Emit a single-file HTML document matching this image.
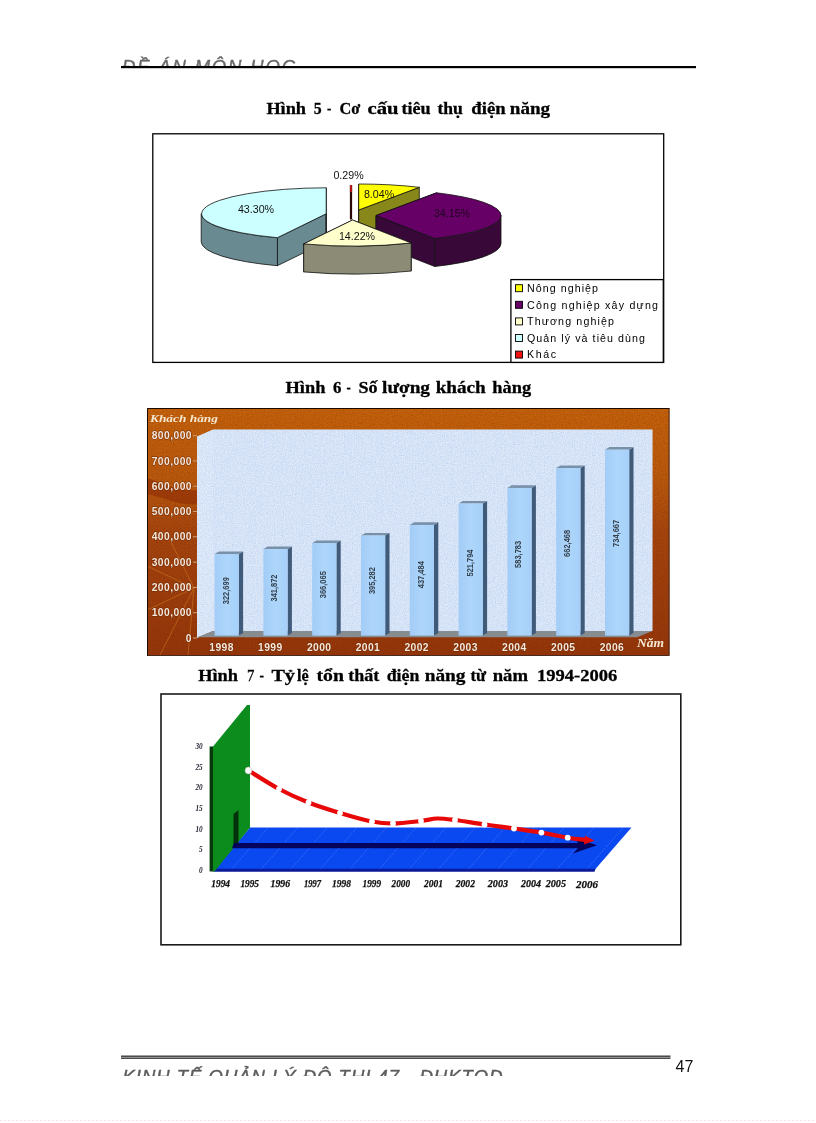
<!DOCTYPE html>
<html lang="vi"><head><meta charset="utf-8"><title>Đề án môn học</title>
<style>html,body{margin:0;padding:0;background:#fff}body{width:816px;height:1123px;position:relative;overflow:hidden;font-family:"Liberation Sans",sans-serif}</style>
</head><body>
<svg width="816" height="1123" viewBox="0 0 816 1123" style="position:absolute;left:0;top:0">
<defs>
<clipPath id="hc"><rect x="100" y="40" width="620" height="26.3"/></clipPath>
<clipPath id="fc"><rect x="100" y="1060" width="620" height="16"/></clipPath>
<filter id="noise" x="0" y="0" width="100%" height="100%"><feTurbulence type="fractalNoise" baseFrequency="0.9" numOctaves="2" seed="3" result="n"/><feColorMatrix in="n" type="matrix" values="0 0 0 0 0  0 0 0 0 0  0 0 0 0 0  0.9 0.9 0.9 0 -1.05" result="a"/><feComposite in="SourceGraphic" in2="a" operator="in"/></filter>
<linearGradient id="bg2" x1="0" y1="0" x2="0" y2="1"><stop offset="0" stop-color="#c8640c"/><stop offset="0.3" stop-color="#bc5a0e"/><stop offset="0.5" stop-color="#a8460e"/><stop offset="1" stop-color="#96360a"/></linearGradient>
<linearGradient id="barf" x1="0" y1="0" x2="1" y2="0"><stop offset="0" stop-color="#a2ccf6"/><stop offset="0.5" stop-color="#aed6fc"/><stop offset="1" stop-color="#a6d0f8"/></linearGradient>
</defs>
<g clip-path="url(#hc)"><text x="122" y="73.4" font-family="'Liberation Sans',sans-serif" font-style="italic" font-size="18.5" fill="#6a6a6a" stroke="#6a6a6a" stroke-width="0.4" textLength="173" lengthAdjust="spacing">ĐỀ ÁN MÔN HỌC</text></g>
<rect x="121" y="66" width="575" height="2.2" fill="#000"/>
<g font-family="'Liberation Serif',serif" font-size="17.4" fill="#000" stroke="#000" stroke-width="0.3"><text x="266.4" y="114" textLength="39.6" lengthAdjust="spacingAndGlyphs" font-weight="bold">Hình</text> <text x="313.7" y="114" textLength="7.9" lengthAdjust="spacingAndGlyphs" font-weight="bold">5</text> <text x="327.0" y="114" textLength="4.3" lengthAdjust="spacingAndGlyphs" font-weight="bold">-</text> <text x="339.4" y="114" textLength="20.8" lengthAdjust="spacingAndGlyphs" font-weight="bold">Cơ</text> <text x="367.5" y="114" textLength="31.0" lengthAdjust="spacingAndGlyphs" font-weight="bold">cấu</text> <text x="401.5" y="114" textLength="29.1" lengthAdjust="spacingAndGlyphs" font-weight="bold">tiêu</text> <text x="437.5" y="114" textLength="25.4" lengthAdjust="spacingAndGlyphs" font-weight="bold">thụ</text> <text x="471.3" y="114" textLength="34.3" lengthAdjust="spacingAndGlyphs" font-weight="bold">điện</text> <text x="509.8" y="114" textLength="40.2" lengthAdjust="spacingAndGlyphs" font-weight="bold">năng</text></g>
<g font-family="'Liberation Serif',serif" font-size="17.4" fill="#000" stroke="#000" stroke-width="0.3"><text x="285.6" y="393.4" textLength="39.8" lengthAdjust="spacingAndGlyphs" font-weight="bold">Hình</text> <text x="332.9" y="393.4" textLength="8.4" lengthAdjust="spacingAndGlyphs" font-weight="bold">6</text> <text x="346.6" y="393.4" textLength="4.3" lengthAdjust="spacingAndGlyphs" font-weight="bold">-</text> <text x="358.4" y="393.4" textLength="19.1" lengthAdjust="spacingAndGlyphs" font-weight="bold">Số</text> <text x="382.1" y="393.4" textLength="47.9" lengthAdjust="spacingAndGlyphs" font-weight="bold">lượng</text> <text x="435.7" y="393.4" textLength="50.1" lengthAdjust="spacingAndGlyphs" font-weight="bold">khách</text> <text x="492.3" y="393.4" textLength="38.8" lengthAdjust="spacingAndGlyphs" font-weight="bold">hàng</text></g>
<g font-family="'Liberation Serif',serif" font-size="17.4" fill="#000" stroke="#000" stroke-width="0.3"><text x="198.2" y="680.6" textLength="39.8" lengthAdjust="spacingAndGlyphs" font-weight="bold">Hình</text> <text x="246.9" y="680.6" textLength="7.4" lengthAdjust="spacingAndGlyphs" font-weight="normal">7</text> <text x="259.6" y="680.6" textLength="4.5" lengthAdjust="spacingAndGlyphs" font-weight="bold">-</text> <text x="271.4" y="680.6" textLength="23.5" lengthAdjust="spacingAndGlyphs" font-weight="bold">Tỷ</text> <text x="296.9" y="680.6" textLength="11.7" lengthAdjust="spacingAndGlyphs" font-weight="bold">lệ</text> <text x="316.5" y="680.6" textLength="27.4" lengthAdjust="spacingAndGlyphs" font-weight="bold">tổn</text> <text x="348.2" y="680.6" textLength="31.0" lengthAdjust="spacingAndGlyphs" font-weight="bold">thất</text> <text x="386.7" y="680.6" textLength="32.7" lengthAdjust="spacingAndGlyphs" font-weight="bold">điện</text> <text x="424.7" y="680.6" textLength="40.8" lengthAdjust="spacingAndGlyphs" font-weight="bold">năng</text> <text x="470.4" y="680.6" textLength="15.6" lengthAdjust="spacingAndGlyphs" font-weight="bold">từ</text> <text x="492.7" y="680.6" textLength="35.3" lengthAdjust="spacingAndGlyphs" font-weight="bold">năm</text> <text x="536.9" y="680.6" textLength="80.4" lengthAdjust="spacingAndGlyphs" font-weight="bold">1994-2006</text></g>
<rect x="152.8" y="133.8" width="510.9" height="228.6" fill="#fff" stroke="#000" stroke-width="1.3"/>
<path d="M358.7 210.0L358.7 184.0L358.7 212.0L358.7 238.0Z" fill="#88881a" stroke="#111" stroke-width="0.8" stroke-linejoin="round"/>
<path d="M358.7 210.0L419.3 187.3L419.3 215.3L358.7 238.0Z" fill="#88881a" stroke="#111" stroke-width="0.8" stroke-linejoin="round"/>
<path d="M358.7 210.0L358.7 184.0A125 26 0 0 1 419.3 187.3Z" fill="#ffff00" stroke="#111" stroke-width="0.8" stroke-linejoin="round"/>
<rect x="349.9" y="185" width="2.2" height="34.5" fill="#2a0606" /><rect x="349.9" y="185" width="2.2" height="7" fill="#b01414"/>
<path d="M376.0 215.5L436.6 192.8L436.6 220.8L376.0 243.5Z" fill="#380838" stroke="#111" stroke-width="0.8" stroke-linejoin="round"/>
<path d="M376.0 215.5L434.7 238.5L434.7 266.5L376.0 243.5Z" fill="#380838" stroke="#111" stroke-width="0.8" stroke-linejoin="round"/>
<path d="M501.0 215.5A125 26 0 0 1 434.7 238.5L434.7 266.5A125 26 0 0 0 501.0 243.5Z" fill="#380838" stroke="#111" stroke-width="0.8" stroke-linejoin="round"/>
<path d="M376.0 215.5L436.6 192.8A125 26 0 0 1 434.7 238.5Z" fill="#660066" stroke="#111" stroke-width="0.8" stroke-linejoin="round"/>
<path d="M326.2 213.8L277.4 237.7L277.4 265.7L326.2 241.8Z" fill="#6a8a92" stroke="#111" stroke-width="0.8" stroke-linejoin="round"/>
<path d="M326.2 213.8L326.2 187.8L326.2 215.8L326.2 241.8Z" fill="#6a8a92" stroke="#111" stroke-width="0.8" stroke-linejoin="round"/>
<path d="M277.4 237.7A125 26 0 0 1 201.2 213.8L201.2 241.8A125 26 0 0 0 277.4 265.7Z" fill="#6a8a92" stroke="#111" stroke-width="0.8" stroke-linejoin="round"/>
<path d="M326.2 213.8L277.4 237.7A125 26 0 0 1 326.2 187.8Z" fill="#ccffff" stroke="#111" stroke-width="0.8" stroke-linejoin="round"/>
<path d="M352.5 220.0L411.2 243.0L411.2 271.0L352.5 248.0Z" fill="#8c8c76" stroke="#111" stroke-width="0.8" stroke-linejoin="round"/>
<path d="M352.5 220.0L303.7 243.9L303.7 271.9L352.5 248.0Z" fill="#8c8c76" stroke="#111" stroke-width="0.8" stroke-linejoin="round"/>
<path d="M411.2 243.0A125 26 0 0 1 303.7 243.9L303.7 271.9A125 26 0 0 0 411.2 271.0Z" fill="#8c8c76" stroke="#111" stroke-width="0.8" stroke-linejoin="round"/>
<path d="M352.5 220.0L411.2 243.0A125 26 0 0 1 303.7 243.9Z" fill="#ffffcc" stroke="#111" stroke-width="0.8" stroke-linejoin="round"/>
<text x="348.5" y="178.5" text-anchor="middle" font-family="'Liberation Sans',sans-serif" font-size="10.67" fill="#111" >0.29%</text>
<text x="379" y="197.5" text-anchor="middle" font-family="'Liberation Sans',sans-serif" font-size="10.67" fill="#111" >8.04%</text>
<text x="452" y="217" text-anchor="middle" font-family="'Liberation Sans',sans-serif" font-size="10.67" fill="#200020" >34.15%</text>
<text x="357" y="239.5" text-anchor="middle" font-family="'Liberation Sans',sans-serif" font-size="10.67" fill="#111" >14.22%</text>
<text x="256" y="213" text-anchor="middle" font-family="'Liberation Sans',sans-serif" font-size="10.67" fill="#111" >43.30%</text>
<rect x="510.9" y="279.6" width="152.4" height="82.8" fill="#fff" stroke="#000" stroke-width="1.3"/>
<rect x="515.5" y="284.7" width="7" height="7" fill="#ffff00" stroke="#000" stroke-width="0.9"/>
<text x="527" y="292.0" font-family="'Liberation Sans',sans-serif" font-size="10.67" fill="#000" textLength="71" lengthAdjust="spacing">Nông nghiệp</text>
<rect x="515.5" y="301.3" width="7" height="7" fill="#660066" stroke="#000" stroke-width="0.9"/>
<text x="527" y="308.6" font-family="'Liberation Sans',sans-serif" font-size="10.67" fill="#000" textLength="131" lengthAdjust="spacing">Công nghiệp xây dựng</text>
<rect x="515.5" y="317.9" width="7" height="7" fill="#ffffcc" stroke="#000" stroke-width="0.9"/>
<text x="527" y="325.2" font-family="'Liberation Sans',sans-serif" font-size="10.67" fill="#000" textLength="87" lengthAdjust="spacing">Thương nghiệp</text>
<rect x="515.5" y="334.5" width="7" height="7" fill="#ccffff" stroke="#000" stroke-width="0.9"/>
<text x="527" y="341.8" font-family="'Liberation Sans',sans-serif" font-size="10.67" fill="#000" textLength="118" lengthAdjust="spacing">Quản lý và tiêu dùng</text>
<rect x="515.5" y="351.1" width="7" height="7" fill="#ee1111" stroke="#000" stroke-width="0.9"/>
<text x="527" y="358.4" font-family="'Liberation Sans',sans-serif" font-size="10.67" fill="#000" textLength="29" lengthAdjust="spacing">Khác</text>
<g>
<rect x="147" y="408" width="522.5" height="248" fill="url(#bg2)"/>
<rect x="147" y="408" width="522.5" height="248" fill="#5a2000" filter="url(#noise)" opacity="0.3"/>
<path d="M147 478 C165 484 180 492 197 490 L197 504 C180 506 165 498 147 494Z" fill="#8a2806" opacity="0.55"/>
<g stroke="#d88a28" stroke-width="1" opacity="0.45" fill="none"><path d="M194 588L147 566"/><path d="M194 588L147 610"/><path d="M194 588L160 655"/><path d="M194 588L188 655"/><path d="M194 588L170 540"/></g>
<polygon points="197,436.5 213,429.5 213,631 197,638" fill="#e4eefb"/>
<rect x="213" y="429.5" width="439.5" height="201.5" fill="#e0ebfa"/>
<polygon points="197,637.3 213,631 652.5,631 637,637.3" fill="#868c90"/>
<polygon points="197,436.5 213,429.5 652.5,429.5 652.5,631 213,631 197,638" fill="#88a8e0" filter="url(#noise)" opacity="0.4"/>
<polygon points="238.8,554.0 243.1,551.4 243.1,633.0 238.8,635.6" fill="#405a7a"/>
<polygon points="214.6,554.0 218.9,551.4 243.1,551.4 238.8,554.0" fill="#7890a8"/>
<rect x="214.6" y="554.0" width="24.2" height="81.6" fill="url(#barf)"/>
<text transform="translate(228.6,590.7) rotate(-90)" text-anchor="middle" font-family="'Liberation Sans Narrow','Liberation Sans',sans-serif" font-weight="bold" font-size="9.8" fill="#34424e" textLength="27" lengthAdjust="spacingAndGlyphs">322,699</text>
<text x="209.3" y="651.3" textLength="24.5" lengthAdjust="spacing" font-family="'Liberation Sans',sans-serif" font-weight="bold" font-size="10.3" fill="#f8e8dc" stroke="#6a2800" stroke-width="0.9" paint-order="stroke" letter-spacing="0.4">1998</text>
<polygon points="287.6,549.1 291.9,546.5 291.9,633.0 287.6,635.6" fill="#405a7a"/>
<polygon points="263.4,549.1 267.7,546.5 291.9,546.5 287.6,549.1" fill="#7890a8"/>
<rect x="263.4" y="549.1" width="24.2" height="86.5" fill="url(#barf)"/>
<text transform="translate(277.4,588.0) rotate(-90)" text-anchor="middle" font-family="'Liberation Sans Narrow','Liberation Sans',sans-serif" font-weight="bold" font-size="9.8" fill="#34424e" textLength="27" lengthAdjust="spacingAndGlyphs">341,872</text>
<text x="258.1" y="651.3" textLength="24.5" lengthAdjust="spacing" font-family="'Liberation Sans',sans-serif" font-weight="bold" font-size="10.3" fill="#f8e8dc" stroke="#6a2800" stroke-width="0.9" paint-order="stroke" letter-spacing="0.4">1999</text>
<polygon points="336.4,543.0 340.7,540.4 340.7,633.0 336.4,635.6" fill="#405a7a"/>
<polygon points="312.2,543.0 316.5,540.4 340.7,540.4 336.4,543.0" fill="#7890a8"/>
<rect x="312.2" y="543.0" width="24.2" height="92.6" fill="url(#barf)"/>
<text transform="translate(326.2,584.7) rotate(-90)" text-anchor="middle" font-family="'Liberation Sans Narrow','Liberation Sans',sans-serif" font-weight="bold" font-size="9.8" fill="#34424e" textLength="27" lengthAdjust="spacingAndGlyphs">366,065</text>
<text x="306.9" y="651.3" textLength="24.5" lengthAdjust="spacing" font-family="'Liberation Sans',sans-serif" font-weight="bold" font-size="10.3" fill="#f8e8dc" stroke="#6a2800" stroke-width="0.9" paint-order="stroke" letter-spacing="0.4">2000</text>
<polygon points="385.2,535.6 389.5,533.0 389.5,633.0 385.2,635.6" fill="#405a7a"/>
<polygon points="361.0,535.6 365.3,533.0 389.5,533.0 385.2,535.6" fill="#7890a8"/>
<rect x="361.0" y="535.6" width="24.2" height="100.0" fill="url(#barf)"/>
<text transform="translate(375.0,580.6) rotate(-90)" text-anchor="middle" font-family="'Liberation Sans Narrow','Liberation Sans',sans-serif" font-weight="bold" font-size="9.8" fill="#34424e" textLength="27" lengthAdjust="spacingAndGlyphs">395,282</text>
<text x="355.7" y="651.3" textLength="24.5" lengthAdjust="spacing" font-family="'Liberation Sans',sans-serif" font-weight="bold" font-size="10.3" fill="#f8e8dc" stroke="#6a2800" stroke-width="0.9" paint-order="stroke" letter-spacing="0.4">2001</text>
<polygon points="434.0,524.9 438.3,522.3 438.3,633.0 434.0,635.6" fill="#405a7a"/>
<polygon points="409.8,524.9 414.1,522.3 438.3,522.3 434.0,524.9" fill="#7890a8"/>
<rect x="409.8" y="524.9" width="24.2" height="110.7" fill="url(#barf)"/>
<text transform="translate(423.8,574.7) rotate(-90)" text-anchor="middle" font-family="'Liberation Sans Narrow','Liberation Sans',sans-serif" font-weight="bold" font-size="9.8" fill="#34424e" textLength="27" lengthAdjust="spacingAndGlyphs">437,484</text>
<text x="404.5" y="651.3" textLength="24.5" lengthAdjust="spacing" font-family="'Liberation Sans',sans-serif" font-weight="bold" font-size="10.3" fill="#f8e8dc" stroke="#6a2800" stroke-width="0.9" paint-order="stroke" letter-spacing="0.4">2002</text>
<polygon points="482.8,503.6 487.1,501.0 487.1,633.0 482.8,635.6" fill="#405a7a"/>
<polygon points="458.6,503.6 462.9,501.0 487.1,501.0 482.8,503.6" fill="#7890a8"/>
<rect x="458.6" y="503.6" width="24.2" height="132.0" fill="url(#barf)"/>
<text transform="translate(472.6,563.0) rotate(-90)" text-anchor="middle" font-family="'Liberation Sans Narrow','Liberation Sans',sans-serif" font-weight="bold" font-size="9.8" fill="#34424e" textLength="27" lengthAdjust="spacingAndGlyphs">521,794</text>
<text x="453.3" y="651.3" textLength="24.5" lengthAdjust="spacing" font-family="'Liberation Sans',sans-serif" font-weight="bold" font-size="10.3" fill="#f8e8dc" stroke="#6a2800" stroke-width="0.9" paint-order="stroke" letter-spacing="0.4">2003</text>
<polygon points="531.6,487.9 535.9,485.3 535.9,633.0 531.6,635.6" fill="#405a7a"/>
<polygon points="507.4,487.9 511.7,485.3 535.9,485.3 531.6,487.9" fill="#7890a8"/>
<rect x="507.4" y="487.9" width="24.2" height="147.7" fill="url(#barf)"/>
<text transform="translate(521.4,554.4) rotate(-90)" text-anchor="middle" font-family="'Liberation Sans Narrow','Liberation Sans',sans-serif" font-weight="bold" font-size="9.8" fill="#34424e" textLength="27" lengthAdjust="spacingAndGlyphs">583,783</text>
<text x="502.1" y="651.3" textLength="24.5" lengthAdjust="spacing" font-family="'Liberation Sans',sans-serif" font-weight="bold" font-size="10.3" fill="#f8e8dc" stroke="#6a2800" stroke-width="0.9" paint-order="stroke" letter-spacing="0.4">2004</text>
<polygon points="580.4,468.0 584.7,465.4 584.7,633.0 580.4,635.6" fill="#405a7a"/>
<polygon points="556.2,468.0 560.5,465.4 584.7,465.4 580.4,468.0" fill="#7890a8"/>
<rect x="556.2" y="468.0" width="24.2" height="167.6" fill="url(#barf)"/>
<text transform="translate(570.2,543.4) rotate(-90)" text-anchor="middle" font-family="'Liberation Sans Narrow','Liberation Sans',sans-serif" font-weight="bold" font-size="9.8" fill="#34424e" textLength="27" lengthAdjust="spacingAndGlyphs">662,468</text>
<text x="550.9" y="651.3" textLength="24.5" lengthAdjust="spacing" font-family="'Liberation Sans',sans-serif" font-weight="bold" font-size="10.3" fill="#f8e8dc" stroke="#6a2800" stroke-width="0.9" paint-order="stroke" letter-spacing="0.4">2005</text>
<polygon points="629.2,449.7 633.5,447.1 633.5,633.0 629.2,635.6" fill="#405a7a"/>
<polygon points="605.0,449.7 609.3,447.1 633.5,447.1 629.2,449.7" fill="#7890a8"/>
<rect x="605.0" y="449.7" width="24.2" height="185.9" fill="url(#barf)"/>
<text transform="translate(619.0,533.4) rotate(-90)" text-anchor="middle" font-family="'Liberation Sans Narrow','Liberation Sans',sans-serif" font-weight="bold" font-size="9.8" fill="#34424e" textLength="27" lengthAdjust="spacingAndGlyphs">734,667</text>
<text x="599.7" y="651.3" textLength="24.5" lengthAdjust="spacing" font-family="'Liberation Sans',sans-serif" font-weight="bold" font-size="10.3" fill="#f8e8dc" stroke="#6a2800" stroke-width="0.9" paint-order="stroke" letter-spacing="0.4">2006</text>
<text x="192" y="641.6" text-anchor="end" font-family="'Liberation Sans',sans-serif" font-weight="bold" font-size="10.3" fill="#f8e8dc" stroke="#6a2800" stroke-width="0.9" paint-order="stroke" letter-spacing="0.45">0</text>
<rect x="193" y="637.5" width="4" height="1" fill="#c8a080"/>
<text x="192" y="616.3" text-anchor="end" font-family="'Liberation Sans',sans-serif" font-weight="bold" font-size="10.3" fill="#f8e8dc" stroke="#6a2800" stroke-width="0.9" paint-order="stroke" letter-spacing="0.45">100,000</text>
<rect x="193" y="612.2" width="4" height="1" fill="#c8a080"/>
<text x="192" y="591.0" text-anchor="end" font-family="'Liberation Sans',sans-serif" font-weight="bold" font-size="10.3" fill="#f8e8dc" stroke="#6a2800" stroke-width="0.9" paint-order="stroke" letter-spacing="0.45">200,000</text>
<rect x="193" y="586.9" width="4" height="1" fill="#c8a080"/>
<text x="192" y="565.7" text-anchor="end" font-family="'Liberation Sans',sans-serif" font-weight="bold" font-size="10.3" fill="#f8e8dc" stroke="#6a2800" stroke-width="0.9" paint-order="stroke" letter-spacing="0.45">300,000</text>
<rect x="193" y="561.6" width="4" height="1" fill="#c8a080"/>
<text x="192" y="540.4" text-anchor="end" font-family="'Liberation Sans',sans-serif" font-weight="bold" font-size="10.3" fill="#f8e8dc" stroke="#6a2800" stroke-width="0.9" paint-order="stroke" letter-spacing="0.45">400,000</text>
<rect x="193" y="536.3" width="4" height="1" fill="#c8a080"/>
<text x="192" y="515.1" text-anchor="end" font-family="'Liberation Sans',sans-serif" font-weight="bold" font-size="10.3" fill="#f8e8dc" stroke="#6a2800" stroke-width="0.9" paint-order="stroke" letter-spacing="0.45">500,000</text>
<rect x="193" y="511.0" width="4" height="1" fill="#c8a080"/>
<text x="192" y="489.8" text-anchor="end" font-family="'Liberation Sans',sans-serif" font-weight="bold" font-size="10.3" fill="#f8e8dc" stroke="#6a2800" stroke-width="0.9" paint-order="stroke" letter-spacing="0.45">600,000</text>
<rect x="193" y="485.7" width="4" height="1" fill="#c8a080"/>
<text x="192" y="464.5" text-anchor="end" font-family="'Liberation Sans',sans-serif" font-weight="bold" font-size="10.3" fill="#f8e8dc" stroke="#6a2800" stroke-width="0.9" paint-order="stroke" letter-spacing="0.45">700,000</text>
<rect x="193" y="460.4" width="4" height="1" fill="#c8a080"/>
<text x="192" y="439.2" text-anchor="end" font-family="'Liberation Sans',sans-serif" font-weight="bold" font-size="10.3" fill="#f8e8dc" stroke="#6a2800" stroke-width="0.9" paint-order="stroke" letter-spacing="0.45">800,000</text>
<rect x="193" y="435.1" width="4" height="1" fill="#c8a080"/>
<text x="150" y="421.5" font-family="'Liberation Serif',serif" font-style="italic" font-weight="bold" font-size="10.8" fill="#f4e8d0" textLength="68" lengthAdjust="spacingAndGlyphs">Khách hàng</text>
<text x="637" y="647" font-family="'Liberation Serif',serif" font-style="italic" font-weight="bold" font-size="11.6" fill="#f4e8d0" textLength="27" lengthAdjust="spacingAndGlyphs">Năm</text>
<path d="M147.5 656 V408.5 H669.5" fill="none" stroke="#1a0a00" stroke-width="1"/>
<path d="M147.5 655.5 H669 V408.5" fill="none" stroke="#4a2a20" stroke-width="1"/>
</g>
<rect x="161" y="694" width="519.8" height="250.8" fill="#fff" stroke="#1a1a1a" stroke-width="1.6"/>
<polygon points="250,827.5 631.5,827.5 595,869.5 214.5,869.5" fill="#0a48f0"/>
<polygon points="214.5,868.8 595.5,868.8 594.5,871.8 213,871.8" fill="#0a1a98"/>
<line x1="232.0" y1="868.5" x2="267.8" y2="828" stroke="#9cc0ff" stroke-width="0.7" stroke-dasharray="1 1.2" opacity="0.55"/>
<line x1="261.6" y1="868.5" x2="297.4" y2="828" stroke="#9cc0ff" stroke-width="0.7" stroke-dasharray="1 1.2" opacity="0.55"/>
<line x1="291.2" y1="868.5" x2="327.0" y2="828" stroke="#9cc0ff" stroke-width="0.7" stroke-dasharray="1 1.2" opacity="0.55"/>
<line x1="320.8" y1="868.5" x2="356.6" y2="828" stroke="#9cc0ff" stroke-width="0.7" stroke-dasharray="1 1.2" opacity="0.55"/>
<line x1="350.4" y1="868.5" x2="386.2" y2="828" stroke="#9cc0ff" stroke-width="0.7" stroke-dasharray="1 1.2" opacity="0.55"/>
<line x1="380.0" y1="868.5" x2="415.8" y2="828" stroke="#9cc0ff" stroke-width="0.7" stroke-dasharray="1 1.2" opacity="0.55"/>
<line x1="409.6" y1="868.5" x2="445.4" y2="828" stroke="#9cc0ff" stroke-width="0.7" stroke-dasharray="1 1.2" opacity="0.55"/>
<line x1="439.2" y1="868.5" x2="475.0" y2="828" stroke="#9cc0ff" stroke-width="0.7" stroke-dasharray="1 1.2" opacity="0.55"/>
<line x1="468.8" y1="868.5" x2="504.6" y2="828" stroke="#9cc0ff" stroke-width="0.7" stroke-dasharray="1 1.2" opacity="0.55"/>
<line x1="498.4" y1="868.5" x2="534.2" y2="828" stroke="#9cc0ff" stroke-width="0.7" stroke-dasharray="1 1.2" opacity="0.55"/>
<line x1="528.0" y1="868.5" x2="563.8" y2="828" stroke="#9cc0ff" stroke-width="0.7" stroke-dasharray="1 1.2" opacity="0.55"/>
<line x1="557.6" y1="868.5" x2="593.4" y2="828" stroke="#9cc0ff" stroke-width="0.7" stroke-dasharray="1 1.2" opacity="0.55"/>
<line x1="587.2" y1="868.5" x2="623.0" y2="828" stroke="#9cc0ff" stroke-width="0.7" stroke-dasharray="1 1.2" opacity="0.55"/>
<polygon points="213,746.5 247,705 250,705 250,827.5 214.5,871.5 213,871.5" fill="#0c8c1c"/>
<polygon points="209.6,746.5 213,746.5 213,871.5 209.6,871.5" fill="#063a0c"/>
<polygon points="233.5,814 238.5,810 238.5,843 233.5,848" fill="#04300a"/>
<polygon points="234,843 578,843 575,838 597,845.3 573,853.5 578,848.2 232,848.2" fill="#04045c"/>
<path d="M248.5 770.5C253.6 773.6 269.0 783.7 279 789C289.0 794.3 298.3 798.5 308.5 802.5C318.7 806.5 329.4 809.8 340 813C350.6 816.2 363.2 819.8 372 821.5C380.8 823.2 384.8 823.6 393 823.5C401.2 823.4 413.7 821.8 421 821C428.3 820.2 431.3 818.7 437 818.5C442.7 818.3 447.1 819.0 455 820C462.9 821.0 474.7 823.1 484.5 824.5C494.3 825.9 504.5 827.1 514 828.5C523.5 829.9 532.4 831.1 541.4 832.6C550.4 834.1 560.1 836.5 567.7 837.7C575.3 838.9 583.8 839.6 587 840" fill="none" stroke="#e80808" stroke-width="4.2"/>
<polygon points="585,835.8 594.5,840.5 584,844.6" fill="#e80808"/>
<circle cx="248.5" cy="770.5" r="3.4" fill="#fff" stroke="#bbb" stroke-width="0.6"/>
<circle cx="279" cy="789" r="2.9" fill="#fff" stroke="#bbb" stroke-width="0"/>
<circle cx="308.5" cy="802.5" r="2.9" fill="#fff" stroke="#bbb" stroke-width="0"/>
<circle cx="340" cy="813" r="2.9" fill="#fff" stroke="#bbb" stroke-width="0"/>
<circle cx="372" cy="821.5" r="2.9" fill="#fff" stroke="#bbb" stroke-width="0"/>
<circle cx="393" cy="823.5" r="2.9" fill="#fff" stroke="#bbb" stroke-width="0"/>
<circle cx="421" cy="821" r="2.9" fill="#fff" stroke="#bbb" stroke-width="0"/>
<circle cx="455" cy="820" r="2.9" fill="#fff" stroke="#bbb" stroke-width="0"/>
<circle cx="484.5" cy="824.5" r="2.9" fill="#fff" stroke="#bbb" stroke-width="0"/>
<circle cx="514" cy="828.5" r="2.9" fill="#fff" stroke="#bbb" stroke-width="0"/>
<circle cx="541.4" cy="832.6" r="2.9" fill="#fff" stroke="#bbb" stroke-width="0"/>
<circle cx="567.7" cy="837.7" r="2.9" fill="#fff" stroke="#bbb" stroke-width="0"/>
<text x="202.6" y="873.1" text-anchor="end" font-family="'Liberation Serif',serif" font-style="italic" font-weight="bold" font-size="7.2" fill="#223">0</text>
<text x="202.6" y="852.4" text-anchor="end" font-family="'Liberation Serif',serif" font-style="italic" font-weight="bold" font-size="7.2" fill="#223">5</text>
<text x="202.6" y="831.6" text-anchor="end" font-family="'Liberation Serif',serif" font-style="italic" font-weight="bold" font-size="7.2" fill="#223">10</text>
<text x="202.6" y="810.9" text-anchor="end" font-family="'Liberation Serif',serif" font-style="italic" font-weight="bold" font-size="7.2" fill="#223">15</text>
<text x="202.6" y="790.2" text-anchor="end" font-family="'Liberation Serif',serif" font-style="italic" font-weight="bold" font-size="7.2" fill="#223">20</text>
<text x="202.6" y="769.5" text-anchor="end" font-family="'Liberation Serif',serif" font-style="italic" font-weight="bold" font-size="7.2" fill="#223">25</text>
<text x="202.6" y="748.7" text-anchor="end" font-family="'Liberation Serif',serif" font-style="italic" font-weight="bold" font-size="7.2" fill="#223">30</text>
<text x="211.3" y="886.7" font-family="'Liberation Serif',serif" font-style="italic" font-weight="bold" font-size="9.4" fill="#111" stroke="#111" stroke-width="0.25" textLength="18.7" lengthAdjust="spacingAndGlyphs">1994</text>
<text x="240.4" y="886.7" font-family="'Liberation Serif',serif" font-style="italic" font-weight="bold" font-size="9.4" fill="#111" stroke="#111" stroke-width="0.25" textLength="18.6" lengthAdjust="spacingAndGlyphs">1995</text>
<text x="270.5" y="886.7" font-family="'Liberation Serif',serif" font-style="italic" font-weight="bold" font-size="9.4" fill="#111" stroke="#111" stroke-width="0.25" textLength="19.5" lengthAdjust="spacingAndGlyphs">1996</text>
<text x="304" y="886.7" font-family="'Liberation Serif',serif" font-style="italic" font-weight="bold" font-size="9.4" fill="#111" stroke="#111" stroke-width="0.25" textLength="17.0" lengthAdjust="spacingAndGlyphs">1997</text>
<text x="332" y="886.7" font-family="'Liberation Serif',serif" font-style="italic" font-weight="bold" font-size="9.4" fill="#111" stroke="#111" stroke-width="0.25" textLength="19.0" lengthAdjust="spacingAndGlyphs">1998</text>
<text x="362.5" y="886.7" font-family="'Liberation Serif',serif" font-style="italic" font-weight="bold" font-size="9.4" fill="#111" stroke="#111" stroke-width="0.25" textLength="18.5" lengthAdjust="spacingAndGlyphs">1999</text>
<text x="391.6" y="886.7" font-family="'Liberation Serif',serif" font-style="italic" font-weight="bold" font-size="9.4" fill="#111" stroke="#111" stroke-width="0.25" textLength="18.4" lengthAdjust="spacingAndGlyphs">2000</text>
<text x="424" y="886.7" font-family="'Liberation Serif',serif" font-style="italic" font-weight="bold" font-size="9.4" fill="#111" stroke="#111" stroke-width="0.25" textLength="19.0" lengthAdjust="spacingAndGlyphs">2001</text>
<text x="455.7" y="886.7" font-family="'Liberation Serif',serif" font-style="italic" font-weight="bold" font-size="9.4" fill="#111" stroke="#111" stroke-width="0.25" textLength="19.3" lengthAdjust="spacingAndGlyphs">2002</text>
<text x="487.8" y="886.7" font-family="'Liberation Serif',serif" font-style="italic" font-weight="bold" font-size="9.4" fill="#111" stroke="#111" stroke-width="0.25" textLength="20.2" lengthAdjust="spacingAndGlyphs">2003</text>
<text x="521" y="886.7" font-family="'Liberation Serif',serif" font-style="italic" font-weight="bold" font-size="9.4" fill="#111" stroke="#111" stroke-width="0.25" textLength="20.0" lengthAdjust="spacingAndGlyphs">2004</text>
<text x="545.7" y="886.7" font-family="'Liberation Serif',serif" font-style="italic" font-weight="bold" font-size="9.4" fill="#111" stroke="#111" stroke-width="0.25" textLength="20.3" lengthAdjust="spacingAndGlyphs">2005</text>
<text x="576" y="888" font-family="'Liberation Serif',serif" font-style="italic" font-weight="bold" font-size="10.2" fill="#111" stroke="#111" stroke-width="0.25" textLength="22.0" lengthAdjust="spacingAndGlyphs">2006</text>
<rect x="121" y="1055.6" width="549.5" height="1.15" fill="#111"/><rect x="121" y="1057.55" width="549.5" height="1.2" fill="#111"/>
<g clip-path="url(#fc)"><text x="122.5" y="1083.3" font-family="'Liberation Sans',sans-serif" font-style="italic" font-size="18.5" fill="#5c5c5c" stroke="#5c5c5c" stroke-width="0.4" textLength="380" lengthAdjust="spacing">KINH TẾ QUẢN LÝ ĐÔ THỊ 47 - ĐHKTQD</text></g>
<text x="675.5" y="1071.6" font-family="'Liberation Sans',sans-serif" font-size="16" fill="#111">47</text>
<line x1="0" y1="1120.5" x2="816" y2="1120.5" stroke="#f4d8e8" stroke-width="1" stroke-dasharray="1.5 2.5"/>
</svg>
</body></html>
